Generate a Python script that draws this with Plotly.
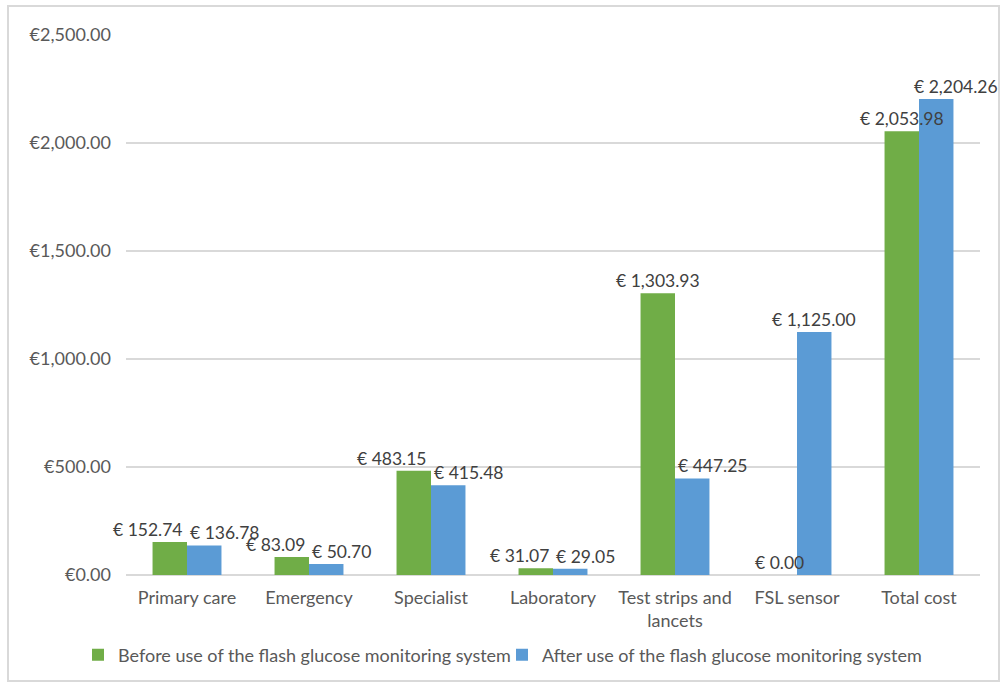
import plotly.graph_objects as go

categories = ["Primary care", "Emergency", "Specialist", "Laboratory",
              "Test strips and<br>lancets", "FSL sensor", "Total cost"]
before_vals = [152.74, 83.09, 483.15, 31.07, 1303.93, 0.00, 2053.98]
after_vals = [136.78, 50.70, 415.48, 29.05, 447.25, 1125.00, 2204.26]
series_names = ["Before use of the flash glucose monitoring system",
                "After use of the flash glucose monitoring system"]
tick_vals = [0, 500, 1000, 1500, 2000, 2500]
tick_text = ["€{:,.2f}".format(v) for v in tick_vals]

# label placement style per category: (before anchor, after anchor)
label_style = [("r", "l"), ("r", "l"), ("r", "l"), ("r", "l"),
               ("c", "l"), ("c", "c"), ("c", "c+")]

FONT = "Lato, 'Open Sans', sans-serif"
GREEN, BLUE = "#70AD47", "#5B9BD5"
ML, MR, MT, MB = 126, 23, 35, 109
W, H = 1003, 684
PW, PH = W - ML - MR, H - MT - MB
BARGAP = 0.435

def fmt(v):
    return "€ {:,.2f}".format(v)

fig = go.Figure()
for name, vals, color, lg in [(series_names[0], before_vals, GREEN, "legend"),
                              (series_names[1], after_vals, BLUE, "legend2")]:
    fig.add_trace(go.Bar(name=name, x=categories, y=vals, legend=lg,
                         marker=dict(color=color, line=dict(width=0))))

bar_w = PW / len(categories) * (1 - BARGAP) / 2
annotations = []
for i, cat in enumerate(categories):
    for s, vals in enumerate([before_vals, after_vals]):
        st = label_style[i][s]
        center = (-bar_w / 2) if s == 0 else (bar_w / 2)
        if st == "r":
            xa, xs = "right", -2
        elif st == "l":
            xa, xs = "left", 1
        elif st == "c+":
            xa, xs = "center", center + 20
        else:
            xa, xs = "center", center
        annotations.append(dict(x=cat, y=vals[i], xref="x", yref="y", text=fmt(vals[i]),
                                showarrow=False, xanchor=xa, yanchor="bottom", xshift=xs,
                                yshift=0, font=dict(size=17.5, color="#404040", family=FONT)))

legend_common = dict(orientation="h", xref="container", yref="container", xanchor="left",
                     y=1 - 655 / H, yanchor="middle", font=dict(size=18, color="#595959"),
                     itemwidth=30, bgcolor="rgba(0,0,0,0)")

fig.update_layout(
    width=W, height=H,
    margin=dict(l=ML, r=MR, t=MT, b=MB, autoexpand=False),
    paper_bgcolor="white", plot_bgcolor="white",
    barmode="group", bargap=BARGAP, bargroupgap=0,
    font=dict(family=FONT, size=18, color="#595959"),
    showlegend=True,
    legend=dict(x=78 / W, **legend_common),
    legend2=dict(x=502 / W, **legend_common),
    xaxis=dict(range=[-0.5, len(categories) - 0.5], autorange=False,
               showgrid=False, showline=False, ticks="", ticklabelstandoff=10, automargin=False,
               tickfont=dict(size=18, color="#595959")),
    yaxis=dict(range=[0, 2500], tickvals=tick_vals, ticktext=tick_text, automargin=False,
               showgrid=True, gridcolor="#d9d9d9", gridwidth=1.5, zeroline=True,
               zerolinecolor="#d9d9d9", zerolinewidth=1.5, showline=False,
               ticklabelstandoff=14, tickfont=dict(size=18, color="#595959")),
    annotations=annotations,
    shapes=[dict(type="rect", xref="paper", yref="paper",
                 x0=(8 - ML) / PW, x1=(999 - ML) / PW,
                 y0=(575 - 681) / PH, y1=(575 - 6) / PH,
                 line=dict(color="#d9d9d9", width=2), layer="below")],
)

fig.write_html("out.html")
